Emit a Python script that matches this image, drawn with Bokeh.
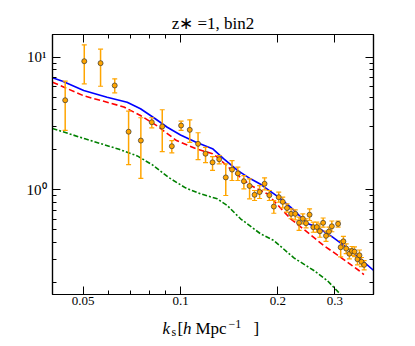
from bokeh.plotting import figure
from bokeh.layouts import column
from bokeh.models import FixedTicker, CustomJSTickFormatter, LogAxis, Label, Range1d
from bokeh.embed import file_html
from bokeh.resources import INLINE

# ---- data ----
k_data = [0.0440, 0.0504, 0.0566, 0.0626, 0.0691, 0.0754, 0.0815, 0.0878, 0.0940, 0.1004,
          0.1068, 0.1133, 0.1195, 0.1256, 0.1317, 0.1380, 0.1443, 0.1504, 0.1570, 0.1635,
          0.1694, 0.1756, 0.1819, 0.1882, 0.1943, 0.2012, 0.2070, 0.2134, 0.2197, 0.2263,
          0.2325, 0.2388, 0.2444, 0.2506, 0.2573, 0.2638, 0.2697, 0.2760, 0.2817, 0.2876,
          0.2936, 0.3070, 0.3127, 0.3188, 0.3252, 0.3327, 0.3388, 0.3451, 0.3524, 0.3574,
          0.3625, 0.3696]
p_data = [4.73, 9.31, 9.00, 6.11, 2.74, 2.35, 3.23, 3.00, 2.13, 3.05,
          2.83, 2.22, 1.87, 1.61, 1.70, 1.24, 1.42, 1.33, 1.16, 1.07,
          0.917, 0.962, 1.11, 0.911, 0.748, 0.880, 0.812, 0.729, 0.659, 0.659,
          0.565, 0.606, 0.560, 0.649, 0.523, 0.524, 0.487, 0.564, 0.450, 0.485,
          0.531, 0.554, 0.369, 0.409, 0.361, 0.330, 0.346, 0.342, 0.300, 0.321,
          0.287, 0.272]
p_upper = [6.58, 12.38, 11.47, 6.86, 3.91, 3.49, 3.49, 4.01, 2.35, 3.29,
           3.37, 2.69, 2.09, 1.78, 1.81, 1.57, 1.66, 1.48, 1.28, 1.21,
           0.988, 1.077, 1.231, 0.988, 0.831, 0.959, 0.880, 0.784, 0.719, 0.707,
           0.622, 0.659, 0.605, 0.719, 0.570, 0.570, 0.554, 0.613, 0.489, 0.523,
           0.582, 0.582, 0.415, 0.446, 0.392, 0.359, 0.374, 0.371, 0.328, 0.352,
           0.309, 0.293]
p_lower = [2.80, 6.29, 6.03, 5.38, 1.55, 1.22, 2.93, 1.94, 1.90, 2.80,
           2.28, 1.69, 1.60, 1.40, 1.57, 0.906, 1.175, 1.175, 1.017, 0.855,
           0.831, 0.860, 1.000, 0.831, 0.666, 0.806, 0.732, 0.678, 0.605, 0.594,
           0.494, 0.554, 0.517, 0.587, 0.479, 0.479, 0.439, 0.523, 0.409, 0.445,
           0.483, 0.524, 0.312, 0.372, 0.331, 0.302, 0.320, 0.314, 0.272, 0.293,
           0.264, 0.249]

blue_k = [0.0402, 0.0432, 0.0502, 0.0593, 0.0684, 0.0752, 0.0827, 0.0910, 0.1000, 0.1113,
          0.1256, 0.1358, 0.1501, 0.1646, 0.1768, 0.2009, 0.2189, 0.2471, 0.2647, 0.2932,
          0.3356, 0.3954]
blue_p = [6.98, 6.58, 5.60, 4.99, 4.57, 4.08, 3.49, 2.96, 2.59, 2.29,
          2.04, 1.72, 1.40, 1.21, 1.10, 0.880, 0.740, 0.557, 0.523, 0.445,
          0.349, 0.2465]

red_k = [0.0402, 0.0502, 0.0593, 0.0668, 0.0752, 0.0847, 0.0972, 0.1115, 0.1256, 0.1299,
         0.1462, 0.1646, 0.1854, 0.2189, 0.2466, 0.2774, 0.3126, 0.3561, 0.3690]
red_p = [6.47, 5.11, 4.57, 4.21, 3.63, 3.03, 2.35, 2.04, 1.87, 1.76,
         1.36, 1.08, 0.933, 0.605, 0.479, 0.380, 0.310, 0.2465, 0.230]

green_k = [0.0402, 0.0510, 0.0646, 0.0735, 0.0819, 0.0918, 0.1036, 0.1153, 0.1299, 0.1394,
           0.1533, 0.1768, 0.1943, 0.2241, 0.2584, 0.2843, 0.3126, 0.3200]
green_p = [2.90, 2.41, 2.02, 1.80, 1.54, 1.24, 1.035, 0.933, 0.855, 0.762,
           0.605, 0.466, 0.415, 0.307, 0.2465, 0.207, 0.1626, 0.153]

x_ticks = [0.05, 0.1, 0.2, 0.3]
x_minor = [0.06, 0.07, 0.08, 0.09]
y_ticks = [1, 10]
y_minor = [0.2, 0.3, 0.4, 0.5, 0.6, 0.7, 0.8, 0.9, 2, 3, 4, 5, 6, 7, 8, 9]
title_text = "z\u2217 =1, bin2"

SERIF = "Liberation Serif"
W = 415
BL, BR = 52, 42          # left / right borders shared by both stacked canvases

# ---------------- main plot ----------------
p = figure(width=W, height=311, title=title_text,
           x_axis_type="log", y_axis_type="log",
           x_range=Range1d(0.0402, 0.395), y_range=Range1d(0.1626, 14.8),
           output_backend="svg", toolbar_location=None,
           min_border_left=BL, min_border_right=BR, min_border_top=34, min_border_bottom=17)
p.grid.visible = False
p.outline_line_color = "black"
p.outline_line_width = 1.2
p.background_fill_color = "white"
p.border_fill_color = "white"
p.title.text_font = SERIF
p.title.text_font_size = "17px"
p.title.text_font_style = "normal"
p.title.text_color = "black"
p.title.align = "center"
p.title.standoff = 3

bottom = p.below[0]
left = p.left[0]

xt = FixedTicker(ticks=x_ticks, minor_ticks=x_minor)
yt = FixedTicker(ticks=y_ticks, minor_ticks=y_minor)

blank = CustomJSTickFormatter(code="return '';")
top = LogAxis(ticker=xt, formatter=blank)
right = LogAxis(ticker=yt, formatter=blank)
p.add_layout(top, "above")
p.add_layout(right, "right")

bottom.ticker = xt
left.ticker = yt
bottom.formatter = CustomJSTickFormatter(code="return String(tick);")
left.formatter = CustomJSTickFormatter(code="return tick > 5 ? '10\u00b9' : '10\u2070';")

for ax in [bottom, left, top, right]:
    ax.major_tick_in = 8
    ax.major_tick_out = 0
    ax.minor_tick_in = 4
    ax.minor_tick_out = 0
    ax.axis_line_color = "black"
    ax.axis_line_width = 1.2
    ax.major_tick_line_color = "black"
    ax.minor_tick_line_color = "black"
    ax.major_label_text_font = SERIF
    ax.major_label_text_color = "black"

bottom.major_label_text_font_size = "13px"
bottom.major_label_standoff = 2
left.major_label_text_font_size = "15px"
left.major_label_standoff = 6
for ax in [top, right]:
    ax.major_label_text_font_size = "1px"
    ax.major_label_standoff = 0

# model curves
p.line(green_k, green_p, line_color="#008000", line_width=1.6, line_dash="5 2 2 2")
p.line(red_k, red_p, line_color="#ff0000", line_width=1.6, line_dash="6 3")
p.line(blue_k, blue_p, line_color="#0000ff", line_width=1.6)

# error bars and points
p.segment(x0=k_data, y0=p_lower, x1=k_data, y1=p_upper, line_color="#ffa500", line_width=1.5)
p.scatter(k_data, p_upper, marker="dash", size=5, line_color="#ffa500", line_width=1.2)
p.scatter(k_data, p_lower, marker="dash", size=5, line_color="#ffa500", line_width=1.2)
p.scatter(k_data, p_data, marker="circle", size=5, fill_color="#ffa500",
          line_color="#333333", line_width=0.7)


# ---------------- x label strip below the plot ----------------
def strip(h):
    f = figure(width=W, height=h, x_range=Range1d(BL, W - BR), y_range=Range1d(0, h),
               x_axis_location=None, y_axis_location=None,
               min_border_left=BL, min_border_right=BR, min_border_top=0, min_border_bottom=0,
               output_backend="svg", toolbar_location=None)
    f.grid.visible = False
    f.outline_line_color = None
    f.background_fill_color = "white"
    f.border_fill_color = "white"
    return f


def lab(f, text, x, y, size, italic=False):
    f.add_layout(Label(x=x, y=y, text=text, text_font=SERIF, text_font_size=size,
                       text_font_style="italic" if italic else "normal",
                       text_align="left", text_baseline="alphabetic", text_color="black"))


XH = 35
xfig = strip(XH)
# x label  k_s [h Mpc^-1]
lab(xfig, "k", 162, 18, "17px", True)
lab(xfig, "s", 171, 15, "12px")
lab(xfig, "[", 177, 18, "17px")
lab(xfig, "h", 182.5, 18, "17px", True)
lab(xfig, "Mpc", 195, 18, "17px")
lab(xfig, "\u22121", 228, 23, "12px")
lab(xfig, "]", 253, 18, "17px")

layout = column(p, xfig, spacing=0)

open("out.html", "w").write(file_html(layout, INLINE))
